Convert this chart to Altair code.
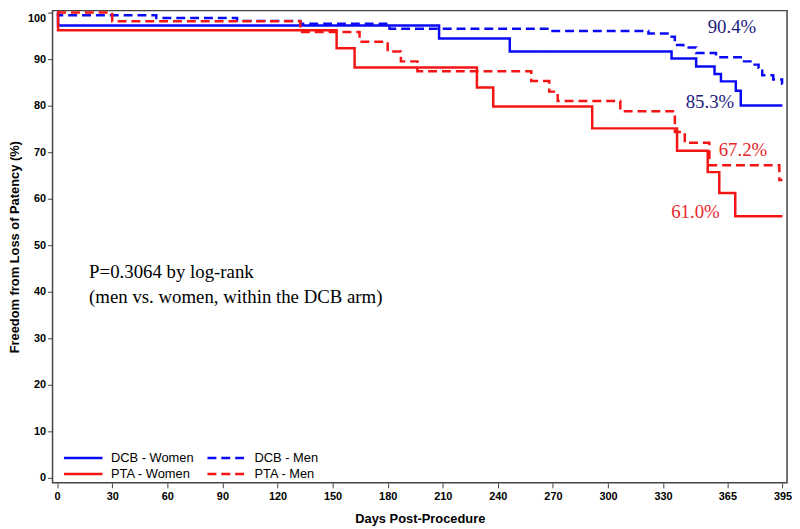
import altair as alt
import pandas as pd

series_names = ["DCB - Women", "DCB - Men", "PTA - Women", "PTA - Men"]
series_colors = ["#0a0af5", "#0a0af5", "#f51414", "#f51414"]
series_dashes = [[1, 0], [9, 5], [1, 0], [9, 5]]

dcb_women_days = [0, 0.5, 208, 246.5, 334.6, 348, 358, 361.5, 369.6, 372.3, 395]
dcb_women_vals = [100, 97.2, 94.4, 91.6, 90.1, 88.4, 86.8, 85.2, 83.2, 80.0, 80.0]

dcb_men_days = [0, 0.5, 54, 98, 132.5, 181, 268, 322, 333.7, 336.4, 341, 348,
                358.8, 373, 378.6, 382, 384, 390, 394.8, 395]
dcb_men_vals = [100, 99.4, 98.8, 98.2, 97.6, 96.5, 96.0, 95.5, 94.8, 93.0, 92.5, 91.3,
                90.4, 89.5, 88.8, 88.1, 86.5, 85.6, 84.7, 84.7]

pta_women_days = [0, 0.5, 152.2, 162, 228.6, 237.5, 291.4, 337.6, 354.3, 360.6, 369.3, 395]
pta_women_vals = [100, 96.2, 92.3, 88.2, 83.9, 79.8, 75.1, 70.3, 65.7, 61.2, 56.2, 56.2]

pta_men_days = [0, 30, 132.5, 164.7, 180, 187.2, 196.2, 258.2, 268, 272.6, 306.7,
                336.4, 341.8, 355.2, 393.3, 395]
pta_men_vals = [100, 98.1, 95.8, 93.7, 91.6, 89.5, 87.4, 85.3, 83.0, 81.0, 78.8,
                74.3, 72.0, 67.2, 64.0, 64.0]

x_ticks = [0, 30, 60, 90, 120, 150, 180, 210, 240, 270, 300, 330, 365, 395]
y_ticks = [0, 10, 20, 30, 40, 50, 60, 70, 80, 90, 100]

pct_texts = ["90.4%", "85.3%", "67.2%", "61.0%"]
pct_days = [367.5, 355.5, 373.5, 347.6]
pct_vals = [96.8, 80.8, 70.4, 57.1]
pct_colors = ["#1c1c7e", "#1c1c7e", "#e8262b", "#e8262b"]

note_texts = ["P=0.3064 by log-rank", "(men vs. women, within the DCB arm)"]
note_days = [17.4, 17.4]
note_vals = [44.3, 38.8]

rows = []
for name, ds, vs in [
    ("DCB - Women", dcb_women_days, dcb_women_vals),
    ("DCB - Men", dcb_men_days, dcb_men_vals),
    ("PTA - Women", pta_women_days, pta_women_vals),
    ("PTA - Men", pta_men_days, pta_men_vals),
]:
    for d, v in zip(ds, vs):
        rows.append({"series": name, "day": d, "value": v})
df = pd.DataFrame(rows)

pct_df = pd.DataFrame({"day": pct_days, "value": pct_vals, "label": pct_texts, "color": pct_colors})
note_df = pd.DataFrame({"day": note_days, "value": note_vals, "label": note_texts})

x_scale = alt.Scale(domain=[-2.5, 397.5], nice=False, zero=False)
y_scale = alt.Scale(domain=[-1.05, 100.4], nice=False, zero=False)

legend = alt.Legend(
    title=None, orient="none", legendX=22, legendY=443, columns=2, direction="horizontal",
    symbolType="M-2.6,0L2.6,0", symbolSize=225, symbolStrokeWidth=2.5,
    labelFont="Liberation Sans", labelFontSize=13, labelColor="black",
    labelOffset=19, columnPadding=8, rowPadding=0, padding=0,
)

x_enc = alt.X("day:Q", scale=x_scale,
              axis=alt.Axis(values=x_ticks, title="Days Post-Procedure", labelPadding=3,
                            titlePadding=11))
y_enc = alt.Y("value:Q", scale=y_scale,
              axis=alt.Axis(values=y_ticks, title="Freedom from Loss of Patency (%)",
                            labelPadding=2, titlePadding=6,
                            labelBaseline={"condition": {"test": "datum.value == 100", "value": "top"},
                                           "value": "middle"}))

lines = alt.Chart(df).mark_line(interpolate="step-after", strokeWidth=2.5).encode(
    x=x_enc,
    y=y_enc,
    color=alt.Color("series:N", scale=alt.Scale(domain=series_names, range=series_colors), legend=legend),
    strokeDash=alt.StrokeDash("series:N", scale=alt.Scale(domain=series_names, range=series_dashes), legend=legend),
)

pct = alt.Chart(pct_df).mark_text(font="Liberation Serif", fontSize=19, align="center", baseline="middle").encode(
    x="day:Q", y="value:Q", text="label:N", color=alt.Color("color:N", scale=None)
)

note = alt.Chart(note_df).mark_text(font="Liberation Serif", fontSize=19, align="left", baseline="middle",
                                    color="black").encode(
    x="day:Q", y="value:Q", text="label:N"
)

chart = alt.layer(lines, pct, note).properties(
    width=742, height=477,
    autosize=alt.AutoSizeParams(type="none"),
    padding={"left": 45, "top": 0, "right": 5, "bottom": 44},
).configure_view(
    stroke="#444444", strokeWidth=1.5
).configure_axis(
    grid=False, domain=False, tickColor="#444444", tickSize=5, tickWidth=1,
    labelFont="Liberation Sans", labelFontSize=11, labelFontWeight="bold", labelColor="black",
    titleFont="Liberation Sans", titleFontSize=13, titleFontWeight="bold", titleColor="black",
)

chart.save("out.html", embed_options={"renderer": "svg", "actions": False})
